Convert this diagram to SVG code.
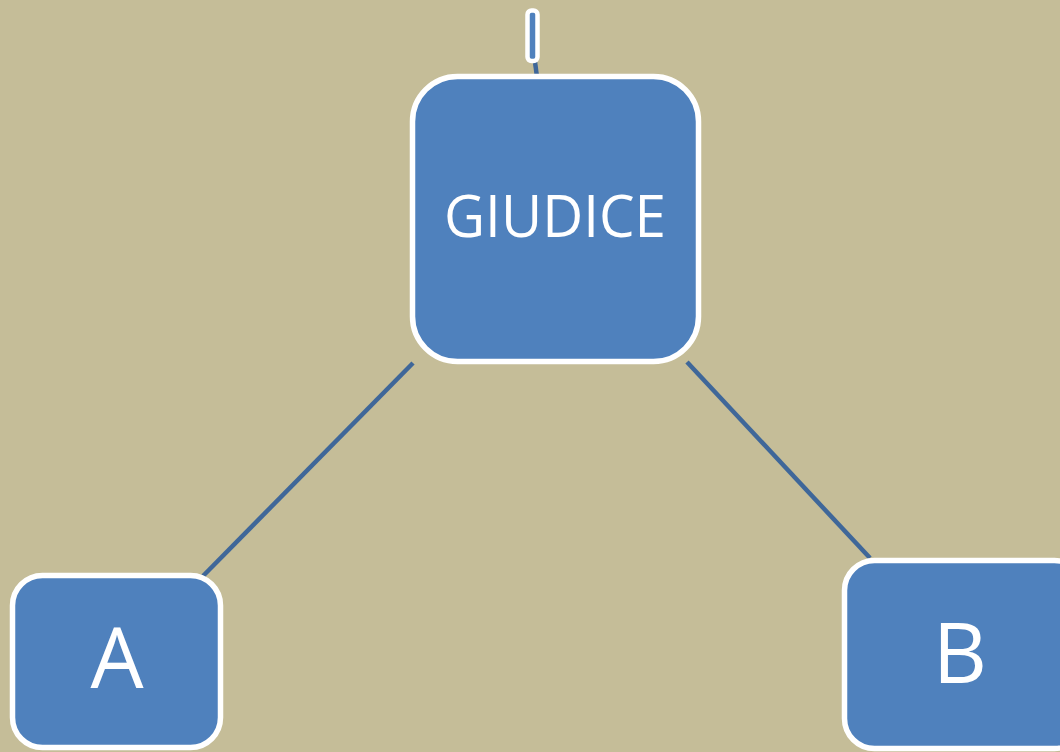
<svg xmlns="http://www.w3.org/2000/svg" width="1060" height="752" viewBox="0 0 1060 752">
<style>
.box{fill:#4F81BD;stroke:#FFFFFF;stroke-width:5.5}
.lbl{fill:#FFFFFF;font-family:"Open Sans","Noto Sans",sans-serif;text-anchor:middle}
.conn{stroke:#3F6799;stroke-width:4.5;fill:none}
</style>
<rect width="1060" height="752" fill="#C5BD98"/>
<g id="connectors">
<line class="conn" x1="535" y1="62" x2="537" y2="77"/>
<line class="conn" x1="413" y1="363" x2="203" y2="576"/>
<line class="conn" x1="687" y1="362" x2="870" y2="558"/>
</g>
<g id="node-top">
<rect class="box" x="527.5" y="10.5" width="10" height="50.5" rx="4" style="stroke-width:4.5"/>
</g>
<g id="node-giudice">
<rect class="box" x="412.5" y="76.5" width="286" height="285" rx="45"/>
<text class="lbl" x="555" y="237" font-size="58" textLength="222" lengthAdjust="spacingAndGlyphs">GIUDICE</text>
</g>
<g id="node-a">
<rect class="box" x="12.5" y="575.5" width="208" height="172" rx="30"/>
<text class="lbl" x="117" y="688" font-size="84">A</text>
</g>
<g id="node-b">
<rect class="box" x="844.5" y="560.5" width="240" height="188" rx="30"/>
<text class="lbl" x="960" y="683" font-size="84">B</text>
</g>
</svg>
